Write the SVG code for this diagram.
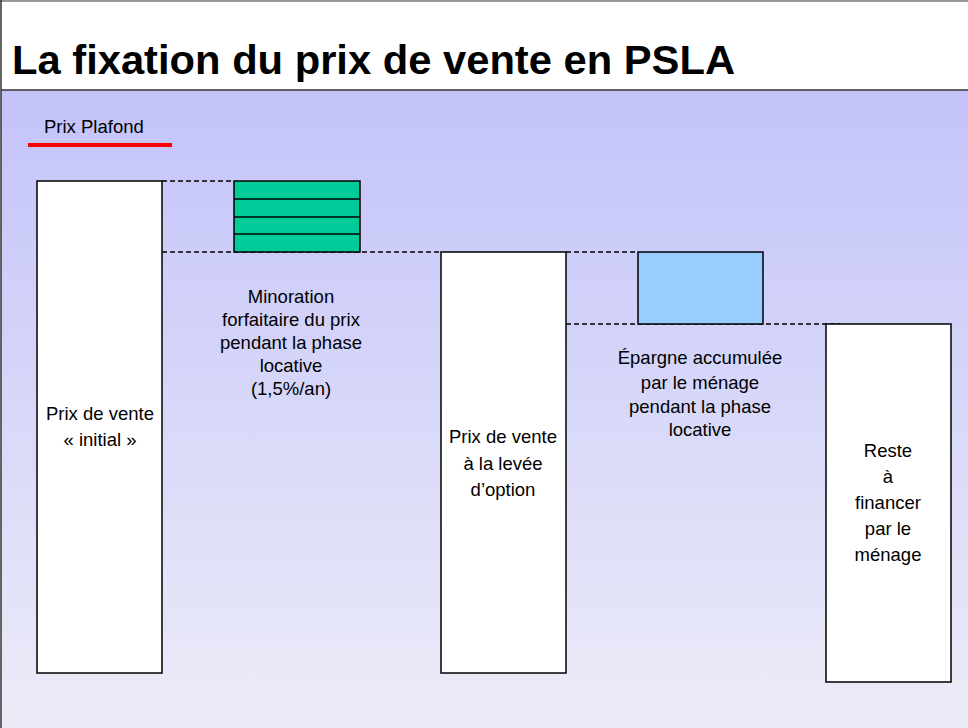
<svg xmlns="http://www.w3.org/2000/svg" width="968" height="728" viewBox="0 0 968 728">
<defs>
<linearGradient id="bg" x1="0" y1="0" x2="0" y2="1">
<stop offset="0" stop-color="#C3C3FA"/>
<stop offset="1" stop-color="#ECECF8"/>
</linearGradient>
<style>
text{font-family:"Liberation Sans",Arial,sans-serif;fill:#000}
.lbl{font-size:18.5px;text-anchor:middle}
.box{fill:#fff;stroke:#000;stroke-width:1.5}
.dash{stroke:#000;stroke-width:1.3;stroke-dasharray:5,3;fill:none}
</style>
</defs>
<rect x="0" y="0" width="968" height="728" fill="#fff"/>
<rect x="1" y="90" width="967" height="638" fill="url(#bg)"/>
<line x1="1" y1="90" x2="968" y2="90" stroke="#333" stroke-width="1.5"/>
<line x1="1" y1="0" x2="1" y2="728" stroke="#333" stroke-width="1.5"/>
<line x1="0" y1="1" x2="968" y2="1" stroke="#333" stroke-width="1"/>
<text x="12" y="74" font-size="41" font-weight="bold" textLength="723" lengthAdjust="spacingAndGlyphs">La fixation du prix de vente en PSLA</text>
<g id="plafond">
<text x="44" y="133" font-size="18.5">Prix Plafond</text>
<line x1="28" y1="145" x2="172" y2="145" stroke="#f00" stroke-width="4"/>
</g>
<g id="connectors">
<line class="dash" x1="162" y1="181" x2="234" y2="181"/>
<line class="dash" x1="162" y1="252" x2="441" y2="252"/>
<line class="dash" x1="566" y1="252" x2="638" y2="252"/>
<line class="dash" x1="566" y1="324" x2="840" y2="324"/>
</g>
<g id="initial">
<rect class="box" x="37" y="181" width="125" height="492"/>
<text class="lbl" x="100" y="420">Prix de vente</text>
<text class="lbl" x="100" y="446">« initial »</text>
</g>
<g id="minoration">
<rect x="234" y="181" width="126" height="71" fill="#00CC99" stroke="#000" stroke-width="1.5"/>
<line x1="234" y1="199" x2="360" y2="199" stroke="#000" stroke-width="1.5"/>
<line x1="234" y1="217" x2="360" y2="217" stroke="#000" stroke-width="1.5"/>
<line x1="234" y1="234" x2="360" y2="234" stroke="#000" stroke-width="1.5"/>
<text class="lbl" x="291" y="303">Minoration</text>
<text class="lbl" x="291" y="326">forfaitaire du prix</text>
<text class="lbl" x="291" y="349">pendant la phase</text>
<text class="lbl" x="291" y="372">locative</text>
<text class="lbl" x="291" y="395">(1,5%/an)</text>
</g>
<g id="levee">
<rect class="box" x="441" y="252" width="125" height="421"/>
<text class="lbl" x="503" y="443">Prix de vente</text>
<text class="lbl" x="503" y="470">à la levée</text>
<text class="lbl" x="503" y="496">d’option</text>
</g>
<g id="epargne">
<rect x="638" y="252" width="125" height="72" fill="#99CCFF" stroke="#000" stroke-width="1.5"/>
<text class="lbl" x="700" y="364">Épargne accumulée</text>
<text class="lbl" x="700" y="389">par le ménage</text>
<text class="lbl" x="700" y="413">pendant la phase</text>
<text class="lbl" x="700" y="436">locative</text>
</g>
<g id="reste">
<rect class="box" x="826" y="324" width="125" height="358"/>
<text class="lbl" x="888" y="457">Reste</text>
<text class="lbl" x="888" y="483">à</text>
<text class="lbl" x="888" y="509">financer</text>
<text class="lbl" x="888" y="535">par le</text>
<text class="lbl" x="888" y="561">ménage</text>
</g>
</svg>
